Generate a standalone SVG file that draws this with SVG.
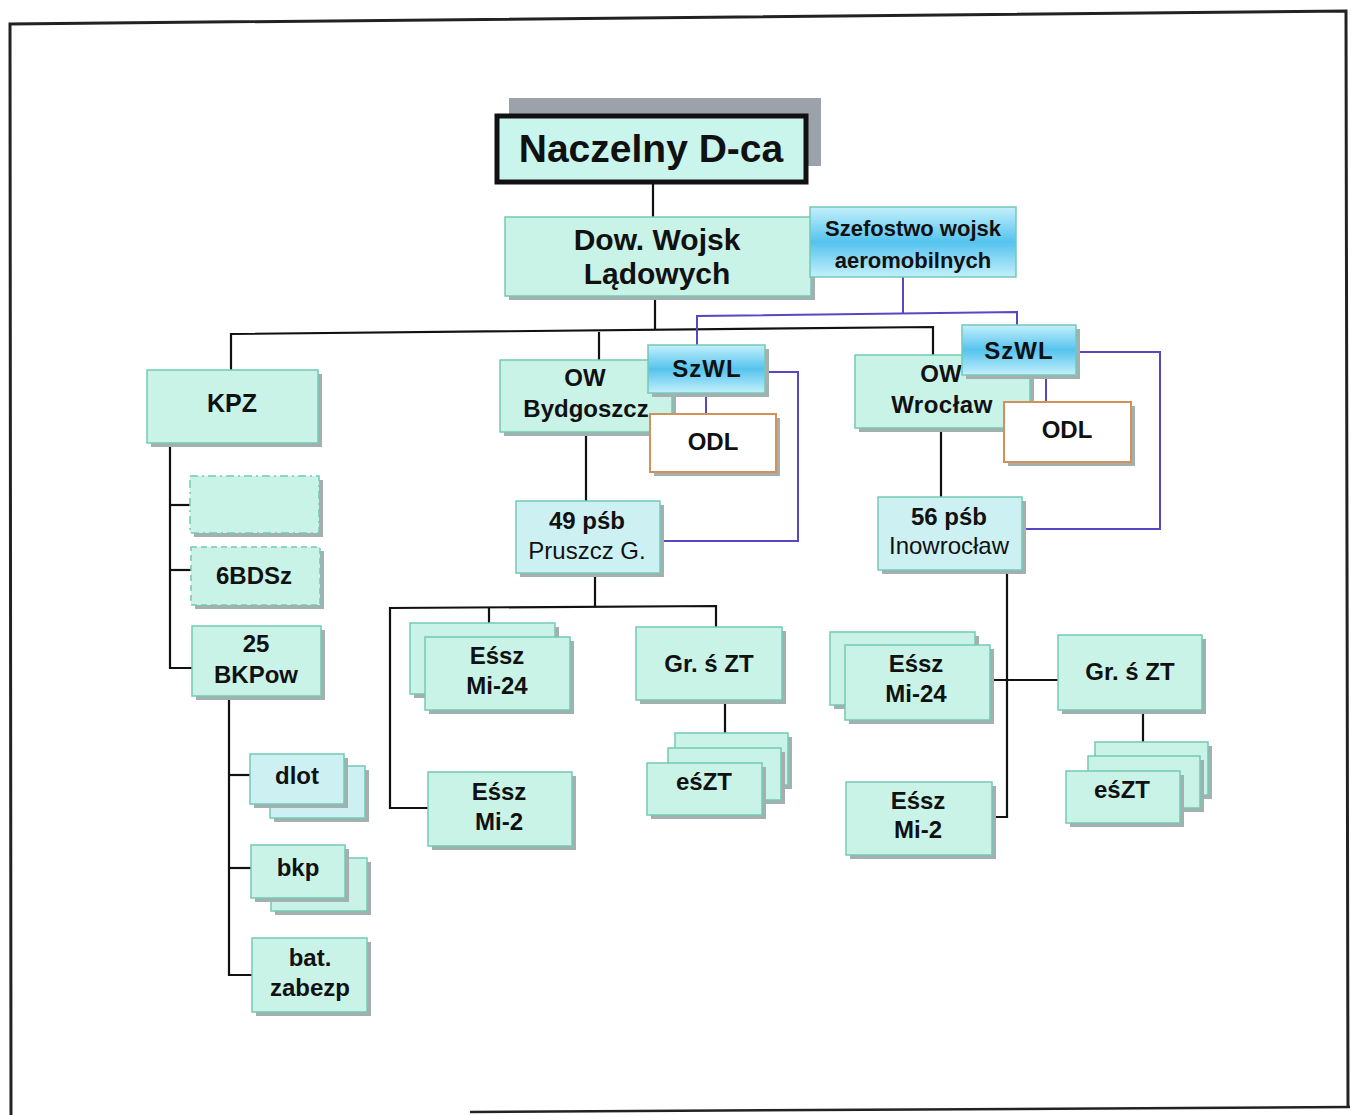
<svg xmlns="http://www.w3.org/2000/svg" width="1351" height="1115" viewBox="0 0 1351 1115">
<defs>
<linearGradient id="blue" x1="0" y1="0" x2="0" y2="1">
<stop offset="0" stop-color="#c4f0fb"/>
<stop offset="0.5" stop-color="#55c3ee"/>
<stop offset="1" stop-color="#c4f0fb"/>
</linearGradient>
<style>
.bx{fill:#c9f3e6;stroke:#74c9b5;stroke-width:1.5}
.bb{fill:#cdf1f3;stroke:#74c9b5;stroke-width:1.5}
.sh{fill:#a4afb0}
.gr{fill:url(#blue);stroke:#74c9b5;stroke-width:1.5}
.od{fill:#ffffff;stroke:#d3915a;stroke-width:2}
.t{font-family:"Liberation Sans",Arial,sans-serif;font-weight:bold;fill:#111;text-anchor:middle}
.r{font-family:"Liberation Sans",Arial,sans-serif;font-weight:normal;fill:#111;text-anchor:middle}
.k{fill:none;stroke:#111;stroke-width:2.2}
.p{fill:none;stroke:#5548c0;stroke-width:2}
</style>
</defs>
<rect width="1351" height="1115" fill="#ffffff"/>
<g id="frame" fill="none" stroke="#222" stroke-width="3">
<path d="M11,1115 L10,24 L1346,11 L1348,1106"/>
<path d="M470,1112 L1350,1107" stroke-width="2.5"/>
</g>
<g id="connectors">
<path class="k" d="M653,183 V217"/>
<path class="k" d="M655,296 V330"/>
<path class="k" d="M231,370 V334 L933,327 V356"/>
<path class="k" d="M599,332 V360"/>
<path class="p" d="M903,277 V313"/>
<path class="p" d="M697,345 V316 L1017,312 V327"/>
<path class="p" d="M706,393 V414"/>
<path class="p" d="M765,372 H798 V541 H660"/>
<path class="p" d="M1046,375 V402"/>
<path class="p" d="M1076,352 H1160 V529 H1022"/>
<path class="k" d="M170,443 V668 H192"/>
<path class="k" d="M170,505 H190"/>
<path class="k" d="M170,570 H191"/>
<path class="k" d="M229,696 V975 H252"/>
<path class="k" d="M229,775 H250"/>
<path class="k" d="M229,868 H251"/>
<path class="k" d="M586,432 V501"/>
<path class="k" d="M595,573 V606"/>
<path class="k" d="M428,808 H390 V608 L716,606 V627"/>
<path class="k" d="M489,608 V637"/>
<path class="k" d="M725,704 V770"/>
<path class="k" d="M941,430 V497"/>
<path class="k" d="M1007,570 V817 H990"/>
<path class="k" d="M988,680 H1058"/>
<path class="k" d="M1143,712 V771"/>
</g>
<g id="naczelny">
<rect x="509" y="98" width="312" height="68" fill="#9ba2aa"/>
<rect x="497" y="116" width="309" height="66" fill="#c9f5ec" stroke="#111" stroke-width="5"/>
<text class="t" x="651" y="162" font-size="39">Naczelny D-ca</text>
</g>
<g id="dow">
<rect class="sh" x="509" y="221" width="306" height="79"/>
<rect class="bx" x="505" y="217" width="306" height="79"/>
<text class="t" x="657" y="250" font-size="30">Dow. Wojsk</text>
<text class="t" x="657" y="284" font-size="30">Lądowych</text>
</g>
<g id="szefostwo">
<rect class="gr" x="810" y="207" width="206" height="70"/>
<text class="t" x="913" y="236" font-size="22">Szefostwo wojsk</text>
<text class="t" x="913" y="268" font-size="22">aeromobilnych</text>
</g>
<g id="kpz">
<rect class="sh" x="151" y="374" width="171" height="73"/>
<rect class="bx" x="147" y="370" width="171" height="73"/>
<text class="t" x="232" y="412" font-size="25">KPZ</text>
</g>
<g id="blank">
<rect class="sh" x="194" y="480" width="129" height="57"/>
<rect x="190" y="476" width="129" height="57" fill="#c9f3e6" stroke="#74c9b5" stroke-width="1.5" stroke-dasharray="8 4 2 4"/>
</g>
<g id="bdsz">
<rect class="sh" x="195" y="551" width="129" height="58"/>
<rect x="191" y="547" width="129" height="58" fill="#c9f3e6" stroke="#74c9b5" stroke-width="1.5" stroke-dasharray="6 4"/>
<text class="t" x="254" y="584" font-size="24">6BDSz</text>
</g>
<g id="bkpow">
<rect class="sh" x="196" y="630" width="129" height="70"/>
<rect class="bx" x="192" y="626" width="129" height="70"/>
<text class="t" x="256" y="652" font-size="24">25</text>
<text class="t" x="256" y="683" font-size="24">BKPow</text>
</g>
<g id="dlot">
<rect class="sh" x="274" y="770" width="95" height="52"/>
<rect class="bb" x="270" y="766" width="95" height="52"/>
<rect class="sh" x="254" y="758" width="94" height="50"/>
<rect class="bb" x="250" y="754" width="94" height="50"/>
<text class="t" x="297" y="784" font-size="24">dlot</text>
</g>
<g id="bkp">
<rect class="sh" x="275" y="862" width="96" height="53"/>
<rect class="bx" x="271" y="858" width="96" height="53"/>
<rect class="sh" x="255" y="849" width="94" height="53"/>
<rect class="bx" x="251" y="845" width="94" height="53"/>
<text class="t" x="298" y="876" font-size="24">bkp</text>
</g>
<g id="batzabezp">
<rect class="sh" x="256" y="942" width="115" height="74"/>
<rect class="bx" x="252" y="938" width="115" height="74"/>
<text class="t" x="310" y="966" font-size="24">bat.</text>
<text class="t" x="310" y="996" font-size="24">zabezp</text>
</g>
<g id="ow-bydgoszcz">
<rect class="sh" x="504" y="364" width="172" height="72"/>
<rect class="bx" x="500" y="360" width="172" height="72"/>
<text class="t" x="585" y="386" font-size="24">OW</text>
<text class="t" x="586" y="417" font-size="24">Bydgoszcz</text>
</g>
<g id="szwl-bydgoszcz">
<rect class="sh" x="652" y="349" width="117" height="48"/>
<rect class="gr" x="648" y="345" width="117" height="48"/>
<text class="t" x="707" y="377" font-size="24" letter-spacing="1">SzWL</text>
</g>
<g id="odl-bydgoszcz">
<rect class="sh" x="654" y="418" width="126" height="58"/>
<rect class="od" x="650" y="414" width="126" height="58"/>
<text class="t" x="713" y="450" font-size="24">ODL</text>
</g>
<g id="psb49">
<rect class="sh" x="520" y="505" width="144" height="72"/>
<rect class="bb" x="516" y="501" width="144" height="72"/>
<text class="t" x="587" y="529" font-size="24">49 pśb</text>
<text class="r" x="587" y="559" font-size="24">Pruszcz G.</text>
</g>
<g id="essz-mi24-l">
<rect class="sh" x="414" y="627" width="145" height="71"/>
<rect class="bx" x="410" y="623" width="145" height="71"/>
<rect class="sh" x="429" y="641" width="145" height="73"/>
<rect class="bx" x="425" y="637" width="145" height="73"/>
<text class="t" x="497" y="664" font-size="24">Eśsz</text>
<text class="t" x="497" y="694" font-size="24">Mi-24</text>
</g>
<g id="essz-mi2-l">
<rect class="sh" x="432" y="776" width="144" height="74"/>
<rect class="bx" x="428" y="772" width="144" height="74"/>
<text class="t" x="499" y="800" font-size="24">Eśsz</text>
<text class="t" x="499" y="830" font-size="24">Mi-2</text>
</g>
<g id="grszt-l">
<rect class="sh" x="640" y="631" width="146" height="73"/>
<rect class="bx" x="636" y="627" width="146" height="73"/>
<text class="t" x="709" y="672" font-size="24">Gr. ś ZT</text>
</g>
<g id="eszt-l">
<rect class="sh" x="679" y="737" width="113" height="52"/>
<rect class="bx" x="675" y="733" width="113" height="52"/>
<rect class="sh" x="672" y="752" width="113" height="52"/>
<rect class="bx" x="668" y="748" width="113" height="52"/>
<rect class="sh" x="651" y="767" width="115" height="52"/>
<rect class="bx" x="647" y="763" width="115" height="52"/>
<text class="t" x="704" y="790" font-size="24">eśZT</text>
</g>
<g id="ow-wroclaw">
<rect class="sh" x="859" y="359" width="175" height="73"/>
<rect class="bx" x="855" y="355" width="175" height="73"/>
<text class="t" x="941" y="382" font-size="24">OW</text>
<text class="t" x="942" y="413" font-size="24" letter-spacing="0.5">Wrocław</text>
</g>
<g id="szwl-wroclaw">
<rect class="sh" x="966" y="329" width="114" height="50"/>
<rect class="gr" x="962" y="325" width="114" height="50"/>
<text class="t" x="1019" y="359" font-size="24" letter-spacing="1">SzWL</text>
</g>
<g id="odl-wroclaw">
<rect class="sh" x="1008" y="406" width="127" height="60"/>
<rect class="od" x="1004" y="402" width="127" height="60"/>
<text class="t" x="1067" y="438" font-size="24">ODL</text>
</g>
<g id="psb56">
<rect class="sh" x="882" y="501" width="144" height="73"/>
<rect class="bb" x="878" y="497" width="144" height="73"/>
<text class="t" x="949" y="525" font-size="24">56 pśb</text>
<text class="r" x="949" y="554" font-size="24">Inowrocław</text>
</g>
<g id="essz-mi24-r">
<rect class="sh" x="834" y="636" width="145" height="73"/>
<rect class="bx" x="830" y="632" width="145" height="73"/>
<rect class="sh" x="849" y="649" width="145" height="75"/>
<rect class="bx" x="845" y="645" width="145" height="75"/>
<text class="t" x="916" y="672" font-size="24">Eśsz</text>
<text class="t" x="916" y="702" font-size="24">Mi-24</text>
</g>
<g id="essz-mi2-r">
<rect class="sh" x="850" y="786" width="146" height="73"/>
<rect class="bx" x="846" y="782" width="146" height="73"/>
<text class="t" x="918" y="809" font-size="24">Eśsz</text>
<text class="t" x="918" y="838" font-size="24">Mi-2</text>
</g>
<g id="grszt-r">
<rect class="sh" x="1062" y="639" width="144" height="75"/>
<rect class="bx" x="1058" y="635" width="144" height="75"/>
<text class="t" x="1130" y="680" font-size="24">Gr. ś ZT</text>
</g>
<g id="eszt-r">
<rect class="sh" x="1099" y="746" width="113" height="53"/>
<rect class="bx" x="1095" y="742" width="113" height="53"/>
<rect class="sh" x="1092" y="760" width="112" height="52"/>
<rect class="bx" x="1088" y="756" width="112" height="52"/>
<rect class="sh" x="1070" y="775" width="114" height="52"/>
<rect class="bx" x="1066" y="771" width="114" height="52"/>
<text class="t" x="1122" y="798" font-size="24">eśZT</text>
</g>
</svg>
